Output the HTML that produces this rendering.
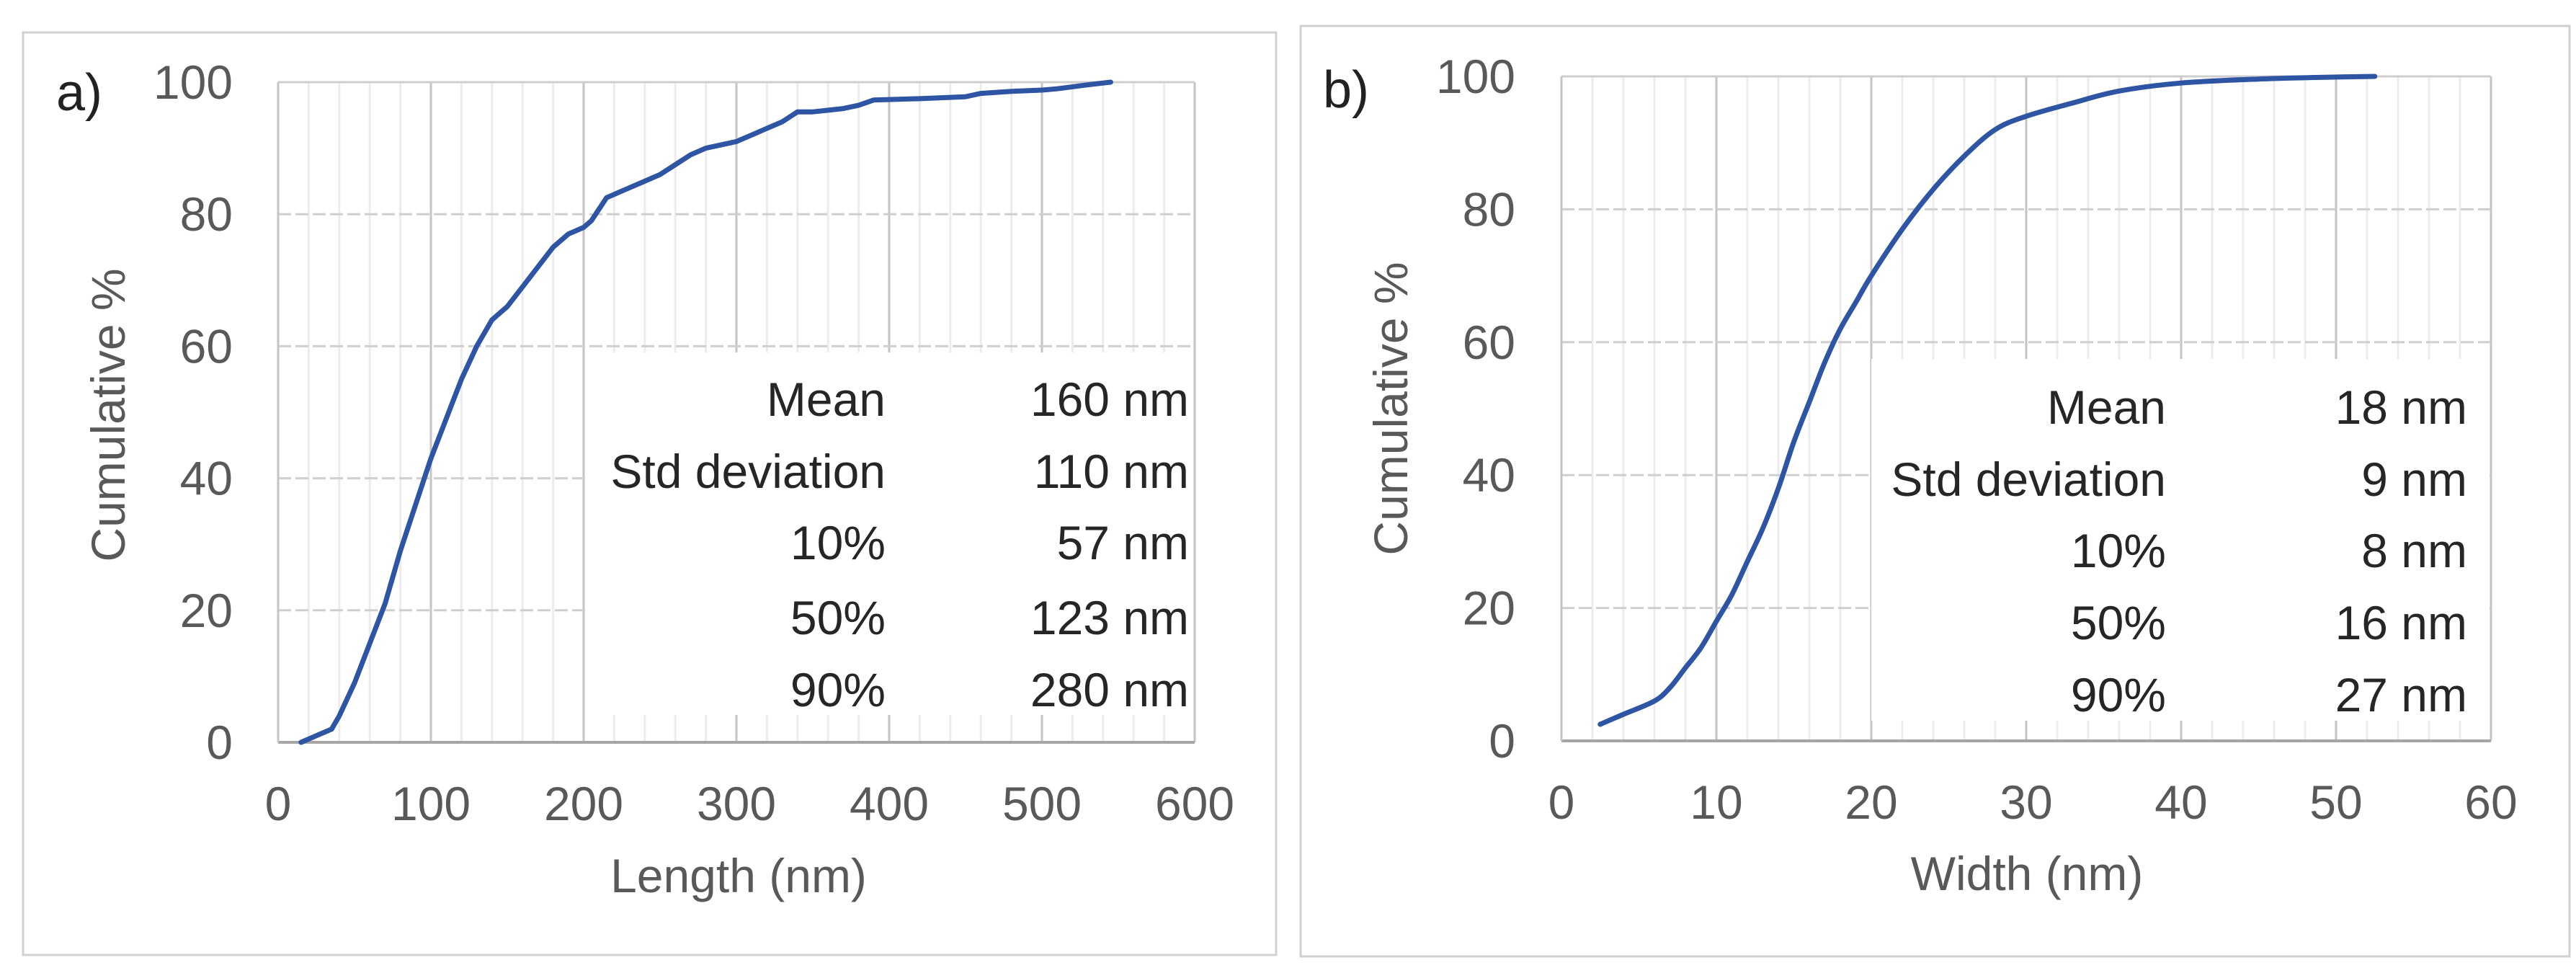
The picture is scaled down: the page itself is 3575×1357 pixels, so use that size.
<!DOCTYPE html>
<html><head><meta charset="utf-8"><style>
html,body{margin:0;padding:0;background:#fff;}
svg{display:block;font-family:"Liberation Sans",Arial,sans-serif;}
</style></head><body>
<svg id="fig" width="3575" height="1357" viewBox="0 0 3575 1357"></svg>
<script>
const lengthX=[15,25,35,40,50,60,70,80,90,100,110,120,130,140,150,160,170,180,190,200,205,215,225,240,250,260,270,280,300,310,320,330,340,350,370,380,390,420,450,460,480,500,510,530,545];
const lengthY=[0,1,2,4,9,15,21,29,36,43,49,55,60,64,66,69,72,75,77,78,79,82.5,83.5,85,86,87.5,89,90,91,92,93,94,95.5,95.5,96,96.5,97.3,97.5,97.8,98.3,98.6,98.8,99,99.6,100];
const widthX=[2.5,4,6,7,8,9,10,11,12,13,14,15,16,17,18,19,20,22,24,26,28,30,33,36,40,45,50,52.5];
const widthY=[2.5,4,6,8,11,14,18,22,27,32,38,45,51,57,62,66,70,77,83,88,92,94,96,97.8,99,99.6,99.9,100];
const yTicks=[0,20,40,60,80,100];
const xTicksA=[0,100,200,300,400,500,600];
const xTicksB=[0,10,20,30,40,50,60];
const statLabels=["Mean","Std deviation","10%","50%","90%"];
const statsA=["160 nm","110 nm","57 nm","123 nm","280 nm"];
const statsB=["18 nm","9 nm","8 nm","16 nm","27 nm"];

const NS="http://www.w3.org/2000/svg";
const svg=document.getElementById('fig');
function mk(tag,attrs,parent,text){const e=document.createElementNS(NS,tag);for(const k in attrs)e.setAttribute(k,attrs[k]);if(text!==undefined)e.textContent=text;(parent||svg).appendChild(e);return e;}

function smoothPath(pts){
  let d='M'+pts[0][0].toFixed(1)+','+pts[0][1].toFixed(1);
  for(let i=0;i<pts.length-1;i++){
    const p0=pts[i-1]||pts[i],p1=pts[i],p2=pts[i+1],p3=pts[i+2]||p2;
    const c1=[p1[0]+(p2[0]-p0[0])/6,p1[1]+(p2[1]-p0[1])/6];
    const c2=[p2[0]-(p3[0]-p1[0])/6,p2[1]-(p3[1]-p1[1])/6];
    d+=' C'+c1[0].toFixed(1)+','+c1[1].toFixed(1)+' '+c2[0].toFixed(1)+','+c2[1].toFixed(1)+' '+p2[0].toFixed(1)+','+p2[1].toFixed(1);
  }
  return d;
}

function panel(cfg){
  const g=mk('g',{});
  
  
  const fr=mk('rect',{x:cfg.frame[0],y:cfg.frame[1],width:cfg.frame[2]-cfg.frame[0],height:cfg.frame[3]-cfg.frame[1],fill:'#fff',stroke:'#d0d0d0','stroke-width':3},g);
  
  
  const L=cfg.L,R=cfg.R,T=cfg.T,B=cfg.B,xmax=cfg.xmax;
  const sx=v=>L+(v/xmax)*(R-L), sy=v=>B-(v/100)*(B-T);
  for(let i=1;i<30;i++){const v=xmax*i/30; if(i%5===0)continue;
    const l=mk('line',{x1:sx(v),x2:sx(v),y1:T,y2:B,stroke:'#ececec','stroke-width':3},g);
    
    }
  cfg.xt.forEach(v=>{if(v===0)return;const l=mk('line',{x1:sx(v),x2:sx(v),y1:T,y2:B,stroke:'#c4c4c4','stroke-width':3},g);
    
    });
  yTicks.forEach(v=>{if(v===0)return;const l=mk('line',{x1:L,x2:R,y1:sy(v),y2:sy(v),stroke:'#cfcfcf','stroke-width':3,'stroke-dasharray':v===100?'none':'18,6'},g);
    
    });
  const tb=mk('rect',{x:cfg.tbox[0],y:cfg.tbox[1],width:R-cfg.tbox[0]-2,height:cfg.tbox[2]-cfg.tbox[1],fill:'#fff'},g);
  
  
  const ax=mk('line',{x1:L,x2:R,y1:B,y2:B,stroke:'#a6a6a6','stroke-width':4},g);
  
  
  const ay=mk('line',{x1:L,x2:L,y1:T,y2:B,stroke:'#c4c4c4','stroke-width':3},g);
  
  
  yTicks.forEach(v=>{const t=mk('text',{x:cfg.ylabR,y:sy(v)+23,'text-anchor':'end','font-size':66,fill:'#595959'},g,String(v));
    
    });
  cfg.xt.forEach(v=>{const t=mk('text',{x:sx(v),y:cfg.xtY+23,'text-anchor':'middle','font-size':66,fill:'#595959'},g,String(v));
    
    });
  const pts=cfg.xs.map((x,i)=>[sx(x),sy(cfg.ys[i])]);
  const d=cfg.smooth?smoothPath(pts):pts.map((p,i)=>(i?'L':'M')+p[0].toFixed(1)+','+p[1].toFixed(1)).join(' ');
  const p=mk('path',{d:d,fill:'none',stroke:'#2e54a4','stroke-width':7,'stroke-linejoin':'round','stroke-linecap':'round'},g);
  
  
  statLabels.forEach((s,i)=>{const y=cfg.rows[i]+23;
    const a=mk('text',{x:cfg.labR,y:y,'text-anchor':'end','font-size':66,fill:'#262626'},g,s);
    
    
    const b=mk('text',{x:cfg.valR,y:y,'text-anchor':'end','font-size':66,fill:'#262626'},g,cfg.vals[i]);
    
    });
  const yt=mk('text',{x:0,y:0,transform:`translate(${cfg.ytX+23},${cfg.ytY}) rotate(-90)`,'text-anchor':'middle','font-size':66,fill:'#595959'},g,'Cumulative %');
  
  
  const xt=mk('text',{x:cfg.xtTX,y:cfg.xtTY+23,'text-anchor':'middle','font-size':66,fill:'#595959'},g,cfg.xtitle);
  
  
  const pl=mk('text',{x:cfg.plX,y:cfg.plY+25,'font-size':72,fill:'#222'},g,cfg.plabel);
  
  
}
panel({name:'panel-a-length',frame:[32,45,1771,1325],L:386,R:1658,T:114,B:1030,xmax:600,xt:xTicksA,xs:lengthX,ys:lengthY,smooth:false,
  tbox:[814,489,992],ylabR:323,xtY:1115,rows:[554,654,753,857,957],labR:1229,valR:1650,vals:statsA,
  ytX:150,ytY:576,xtTX:1025,xtTY:1215,xtitle:'Length (nm)',plX:78,plY:128,plabel:'a)'});
panel({name:'panel-b-width',frame:[1805,36,3566,1327],L:2167,R:3457,T:106,B:1028,xmax:60,xt:xTicksB,xs:widthX,ys:widthY,smooth:true,
  tbox:[2597,498,1000],ylabR:2103,xtY:1113,rows:[565,665,764,864,964],labR:3006,valR:3424,vals:statsB,
  ytX:1930,ytY:567,xtTX:2813,xtTY:1212,xtitle:'Width (nm)',plX:1836,plY:124,plabel:'b)'});
</script>
</body></html>
